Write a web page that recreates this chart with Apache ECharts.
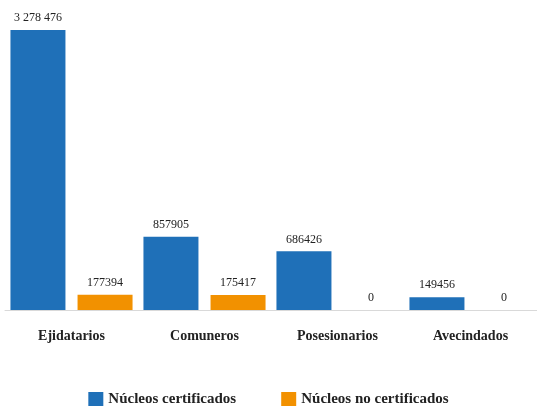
<!DOCTYPE html>
<html><head><meta charset="utf-8">
<script src="https://cdn.jsdelivr.net/npm/echarts@6/dist/echarts.min.js"></script>
<style>html,body{margin:0;padding:0;background:#fff;overflow:hidden}#c{width:537px;height:406px}</style>
</head><body><div id="c"></div>
<script>
const categories = ['Ejidatarios', 'Comuneros', 'Posesionarios', 'Avecindados'];
const certificados = [3278476, 857905, 686426, 149456];
const noCertificados = [177394, 175417, 0, 0];
const seriesNames = ['Núcleos certificados', 'Núcleos no certificados'];

const font = 'Liberation Serif, DejaVu Serif, serif';
function fmt(p) {
  const v = p.value;
  if (v >= 1000000) return String(v).replace(/\B(?=(\d{3})+(?!\d))/g, ' ');
  return String(v);
}
const chart = echarts.init(document.getElementById('c'));
chart.setOption({
  animation: false,
  grid: { left: 5, right: -6, top: 11, bottom: 96 },
  legend: {
    top: 387, left: 'center', itemWidth: 15, itemHeight: 15, itemGap: 45,
    icon: 'rect',
    textStyle: { fontFamily: font, fontWeight: 'bold', fontSize: 15, color: '#222' },
    data: seriesNames
  },
  xAxis: {
    type: 'category', data: categories,
    axisLine: { lineStyle: { color: '#d9d9d9', width: 1 } },
    axisTick: { show: false },
    axisLabel: { margin: 19, fontFamily: font, fontWeight: 'bold', fontSize: 14, color: '#222' }
  },
  yAxis: { type: 'value', min: 0, max: 3500000, show: false, splitLine: { show: false } },
  series: [
    { name: seriesNames[0], type: 'bar', data: certificados, barWidth: 55, barGap: '22%',
      itemStyle: { color: '#1f70b8' },
      label: { show: true, position: 'top', distance: 6, formatter: fmt, fontFamily: font, fontSize: 12, color: '#222' } },
    { name: seriesNames[1], type: 'bar', data: noCertificados, barWidth: 55,
      itemStyle: { color: '#f29100' },
      label: { show: true, position: 'top', distance: 6, formatter: fmt, fontFamily: font, fontSize: 12, color: '#222' } }
  ]
});
</script></body></html>
